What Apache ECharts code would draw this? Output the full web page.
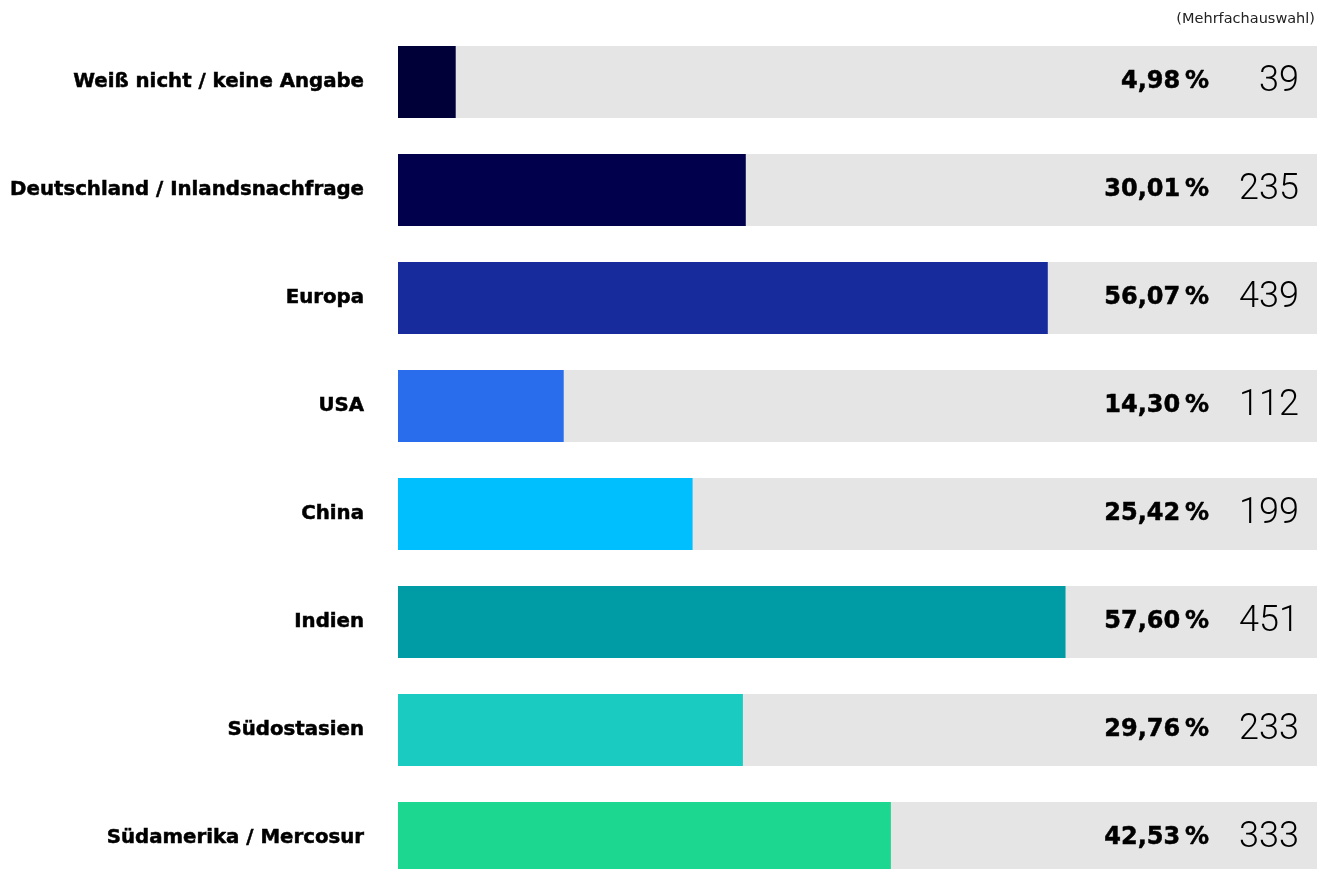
<!DOCTYPE html>
<html>
<head>
<meta charset="utf-8">
<script src="https://cdn.jsdelivr.net/npm/echarts@6/dist/echarts.min.js"></script>
<style>
  html, body { margin: 0; padding: 0; background: #ffffff; }
  #chart { width: 1317px; height: 869px; }
</style>
</head>
<body>
<div id="chart"></div>
<script>
// Zielmärkte: Anteil der Nennungen (in %) und absolute Anzahl
const categories = [
  'Weiß nicht / keine Angabe',
  'Deutschland / Inlandsnachfrage',
  'Europa',
  'USA',
  'China',
  'Indien',
  'Südostasien',
  'Südamerika / Mercosur'
];
const percentValues = [4.98, 30.01, 56.07, 14.30, 25.42, 57.60, 29.76, 42.53];
const countValues = [39, 235, 439, 112, 199, 451, 233, 333];
const barColors = ['#000038', '#00004c', '#172b9c', '#296ded', '#00bfff', '#009ca6', '#1acbc2', '#1bd78f'];
const noteText = '(Mehrfachauswahl)';

// Skalenende der grauen Hintergrundbalken
const SCALE_MAX = 79.3;

const fmtPct = v => v.toFixed(2).replace('.', ',') + '\u2009%';

const chart = echarts.init(document.getElementById('chart'), null, { renderer: 'canvas' });

const trackData = categories.map(() => SCALE_MAX);

chart.setOption({
  animation: false,
  backgroundColor: '#ffffff',
  title: {
    text: noteText,
    right: 2,
    top: 12,
    padding: 0,
    textStyle: {
      fontFamily: 'DejaVu Sans',
      fontSize: 14.5,
      fontWeight: 'normal',
      color: '#222222'
    }
  },
  grid: {
    left: 398,
    right: 0,
    top: 28,
    height: 864,
    containLabel: false,
    outerBoundsMode: 'none'
  },
  xAxis: {
    type: 'value',
    min: 0,
    max: SCALE_MAX,
    show: false
  },
  yAxis: {
    type: 'category',
    data: categories,
    inverse: true,
    axisLine: { show: false },
    axisTick: { show: false },
    splitLine: { show: false },
    axisLabel: {
      margin: 34,
      fontFamily: 'DejaVu Sans',
      fontWeight: 'bold',
      fontSize: 19.75,
      color: '#000000',
      textBorderColor: '#000000',
      textBorderWidth: 0.5,
      padding: [3, 0, 0, 0]
    }
  },
  series: [
    {
      name: 'Anteil',
      type: 'bar',
      barWidth: 72,
      data: percentValues.map((v, i) => ({ value: v, itemStyle: { color: barColors[i] } })),
      showBackground: true,
      backgroundStyle: { color: '#e5e5e5' },
      silent: true
    },
    {
      name: 'Prozent',
      type: 'bar',
      barWidth: 72,
      barGap: '-100%',
      data: trackData,
      itemStyle: { color: 'rgba(0,0,0,0)' },
      silent: true,
      label: {
        show: true,
        position: 'insideRight',
        distance: 108,
        formatter: p => fmtPct(percentValues[p.dataIndex]),
        fontFamily: 'DejaVu Sans',
        fontWeight: 'bold',
        fontSize: 24,
        color: '#000000',
        textBorderColor: '#000000',
        textBorderWidth: 0.5
      }
    },
    {
      name: 'Anzahl',
      type: 'bar',
      barWidth: 72,
      barGap: '-100%',
      data: trackData,
      itemStyle: { color: 'rgba(0,0,0,0)' },
      silent: true,
      label: {
        show: true,
        position: 'insideRight',
        distance: 18,
        formatter: p => String(countValues[p.dataIndex]),
        fontFamily: 'Roboto',
        fontWeight: 300,
        fontSize: 36,
        color: '#000000'
      }
    }
  ]
});
</script>
</body>
</html>
